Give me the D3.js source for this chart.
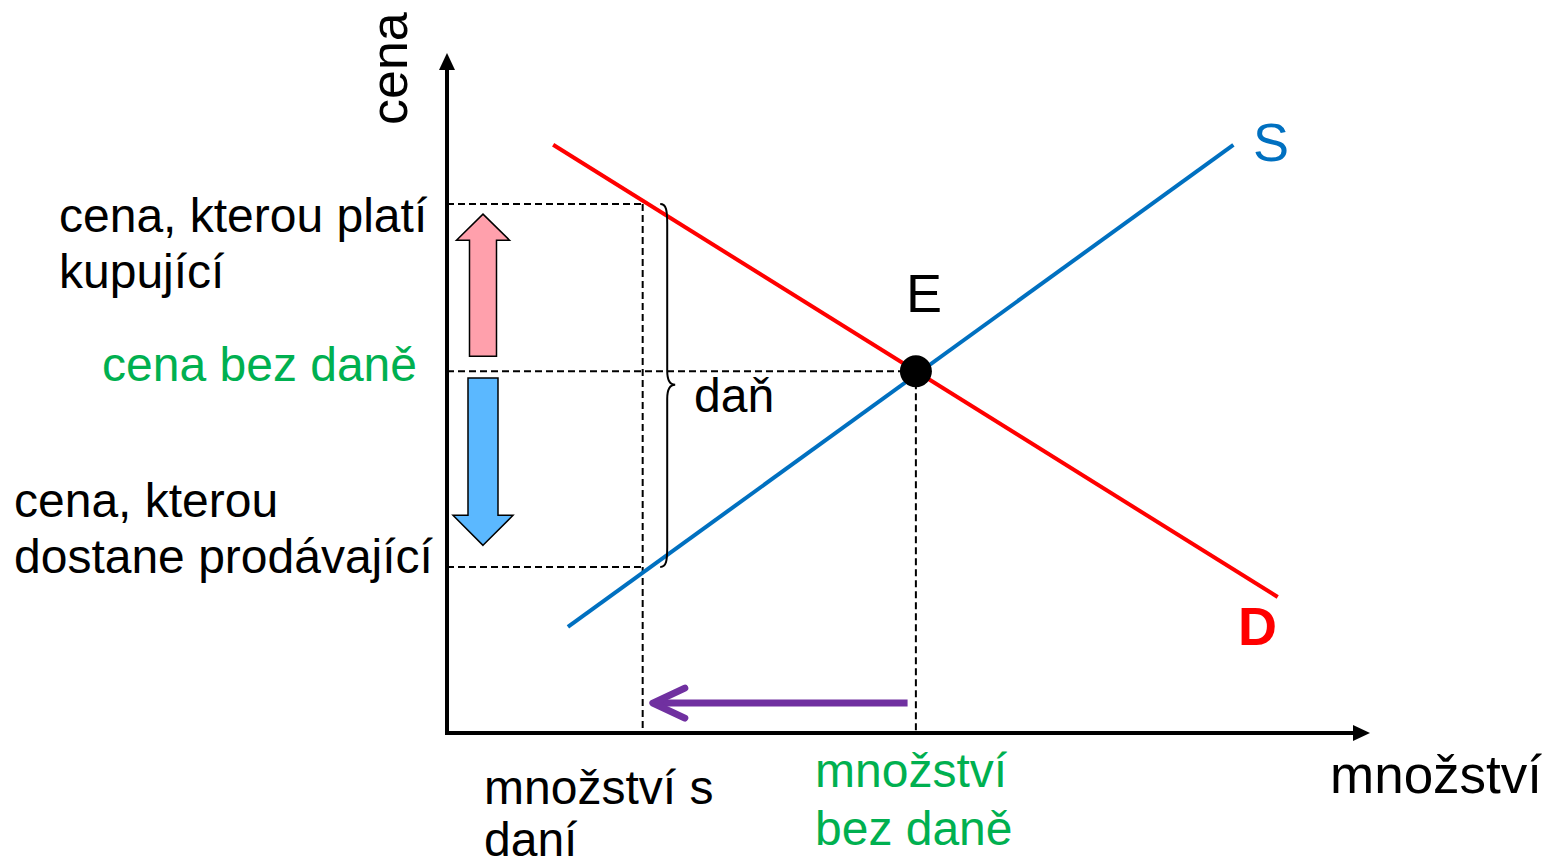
<!DOCTYPE html>
<html>
<head>
<meta charset="utf-8">
<script src="https://cdn.jsdelivr.net/npm/d3@7"></script>
<style>
  html, body { margin: 0; padding: 0; background: #fff; }
  svg { display: block; }
  text { font-family: "Liberation Sans", Arial, sans-serif; }
</style>
</head>
<body>
<svg id="chart" width="1546" height="867"></svg>
<script>
// ---------- data (abstract price / quantity units) ----------
const demandQ = [1.15, 9.0];
const demandP = [8.65, 2.0];
const supplyQ = [1.31, 8.52];
const supplyP = [1.56, 8.65];
const equilibrium = [5.08, 5.32];          // [quantity, price]
const taxQuantity = 2.12;                  // quantity with tax
const taxPrices = [7.78, 2.44];            // [price buyer pays, price seller gets]
const upArrowP = [7.63, 5.54];             // pink arrow: tip, tail
const downArrowP = [5.22, 2.76];           // blue arrow: tail, tip
const sideArrowQ = 0.39;
const shiftArrowQ = [4.99, 2.23];          // purple arrow: from, to
const shiftArrowP = 0.44;
const braceQ = 2.31;
const braceTipP = 5.12;

const axisLabels = ["množství", "cena"];
const curveLabels = ["S", "D", "E"];
const buyerLabel = ["cena, kterou platí", "kupující"];
const noTaxPriceLabel = ["cena bez daně"];
const sellerLabel = ["cena, kterou", "dostane prodávající"];
const taxQLabel = ["množství s", "daní"];
const noTaxQLabel = ["množství", "bez daně"];
const taxLabel = ["daň"];

// ---------- scales ----------
const x = d3.scaleLinear().domain([0, 10]).range([447, 1370]);
const y = d3.scaleLinear().domain([0, 10]).range([733, 53]);

const RED = "#FF0000", BLUE = "#0070C0", GREEN = "#00B050", PURPLE = "#7030A0";
const svg = d3.select("#chart");
const line = d3.line().x(d => x(d[0])).y(d => y(d[1]));

// ---------- dashed guides ----------
const dash = svg.append("g").attr("stroke", "#000").attr("stroke-width", 2)
  .attr("stroke-dasharray", "7,4").attr("fill", "none");
dash.append("path").attr("d", line([[0, taxPrices[0]], [taxQuantity, taxPrices[0]]]));
dash.append("path").attr("d", line([[0, equilibrium[1]], [equilibrium[0], equilibrium[1]]]));
dash.append("path").attr("d", line([[0, taxPrices[1]], [taxQuantity, taxPrices[1]]]));
dash.append("path").attr("d", line([[taxQuantity, taxPrices[0]], [taxQuantity, 0]]));
dash.append("path").attr("d", line([[equilibrium[0], equilibrium[1]], [equilibrium[0], 0]]));

// ---------- axes ----------
const ax = svg.append("g");
const x0 = x(0), y0 = y(0), xMax = x(10), yMax = y(10);
ax.append("line").attr("x1", x0).attr("x2", x0).attr("y1", y0 + 2).attr("y2", yMax + 16)
  .attr("stroke", "#000").attr("stroke-width", 4);
ax.append("line").attr("x1", x0 - 2).attr("x2", xMax - 16).attr("y1", y0).attr("y2", y0)
  .attr("stroke", "#000").attr("stroke-width", 4);
ax.append("path").attr("d", `M${x0},${yMax} L${x0 - 8},${yMax + 17} L${x0 + 8},${yMax + 17}Z`).attr("fill", "#000");
ax.append("path").attr("d", `M${xMax},${y0} L${xMax - 17},${y0 - 8} L${xMax - 17},${y0 + 8}Z`).attr("fill", "#000");

// ---------- demand & supply ----------
svg.append("path").attr("d", line(demandQ.map((q, i) => [q, demandP[i]])))
  .attr("stroke", RED).attr("stroke-width", 4).attr("fill", "none");
svg.append("path").attr("d", line(supplyQ.map((q, i) => [q, supplyP[i]])))
  .attr("stroke", BLUE).attr("stroke-width", 4).attr("fill", "none");

// equilibrium point
svg.append("circle").attr("cx", x(equilibrium[0])).attr("cy", y(equilibrium[1])).attr("r", 16).attr("fill", "#000");

// ---------- brace ----------
{
  const bx = x(braceQ), by0 = y(taxPrices[0]), by1 = y(taxPrices[1]), bm = y(braceTipP);
  const d = `M${bx},${by0} C${bx + 6},${by0} ${bx + 7},${by0 + 6} ${bx + 7},${by0 + 20}
    L${bx + 7},${bm - 14} C${bx + 7},${bm - 5} ${bx + 10},${bm} ${bx + 15},${bm}
    C${bx + 10},${bm} ${bx + 7},${bm + 5} ${bx + 7},${bm + 14}
    L${bx + 7},${by1 - 20} C${bx + 7},${by1 - 6} ${bx + 6},${by1} ${bx},${by1}`;
  svg.append("path").attr("d", d).attr("fill", "none").attr("stroke", "#000").attr("stroke-width", 2);
}

// ---------- block arrows ----------
function blockArrow(cx, tipY, tailY, shaftHalf, headHalf, headLen, fill) {
  const dir = tailY > tipY ? 1 : -1;
  const hb = tipY + dir * headLen;
  const d = `M${cx},${tipY} L${cx + headHalf},${hb} L${cx + shaftHalf},${hb} L${cx + shaftHalf},${tailY}
    L${cx - shaftHalf},${tailY} L${cx - shaftHalf},${hb} L${cx - headHalf},${hb} Z`;
  svg.append("path").attr("d", d).attr("fill", fill).attr("stroke", "#000").attr("stroke-width", 1.5)
    .attr("stroke-linejoin", "miter");
}
blockArrow(x(sideArrowQ), y(upArrowP[0]), y(upArrowP[1]), 13.5, 26.5, 26, "#FFA0AC");
blockArrow(x(sideArrowQ), y(downArrowP[1]), y(downArrowP[0]), 15, 30, 30, "#5BB8FF");

// ---------- purple shift arrow ----------
{
  const ax1 = x(shiftArrowQ[0]), ax2 = x(shiftArrowQ[1]), ay = y(shiftArrowP);
  const g = svg.append("g").attr("stroke", PURPLE).attr("stroke-width", 7)
    .attr("stroke-linecap", "round").attr("stroke-linejoin", "round").attr("fill", "none");
  g.append("line").attr("x1", ax1).attr("x2", ax2 + 4).attr("y1", ay).attr("y2", ay).attr("stroke-linecap", "butt");
  g.append("path").attr("d", `M${ax2 + 32},${ay - 15} L${ax2},${ay} L${ax2 + 32},${ay + 15}`);
}

// ---------- text ----------
function multi(lines, xPos, yBase, lh, opts) {
  const t = svg.append("text").attr("x", xPos).attr("y", yBase)
    .attr("font-size", opts.size || 48).attr("fill", opts.fill || "#000")
    .attr("text-anchor", opts.anchor || "start");
  if (opts.weight) t.attr("font-weight", opts.weight);
  lines.forEach((s, i) => t.append("tspan").attr("x", xPos).attr("y", yBase + i * lh).text(s));
  return t;
}
multi(buyerLabel, 59, 232, 56, {});
multi(noTaxPriceLabel, 417, 381, 56, { fill: GREEN, anchor: "end" });
multi(sellerLabel, 14, 517, 56, {});
multi(taxQLabel, 484, 804, 52, {});
multi(noTaxQLabel, 815, 787, 58, { fill: GREEN });
multi(taxLabel, 694, 412, 56, {});
multi([axisLabels[0]], 1330, 793, 56, { size: 53 });
svg.append("text").attr("transform", "translate(407,125) rotate(-90)")
  .attr("font-size", 52).attr("fill", "#000").text(axisLabels[1]);
multi([curveLabels[0]], 1253, 161, 56, { size: 54, fill: BLUE });
multi([curveLabels[1]], 1238, 645, 56, { size: 54, fill: RED, weight: "bold" });
multi([curveLabels[2]], 906, 312, 56, { size: 54 });
</script>
</body>
</html>
